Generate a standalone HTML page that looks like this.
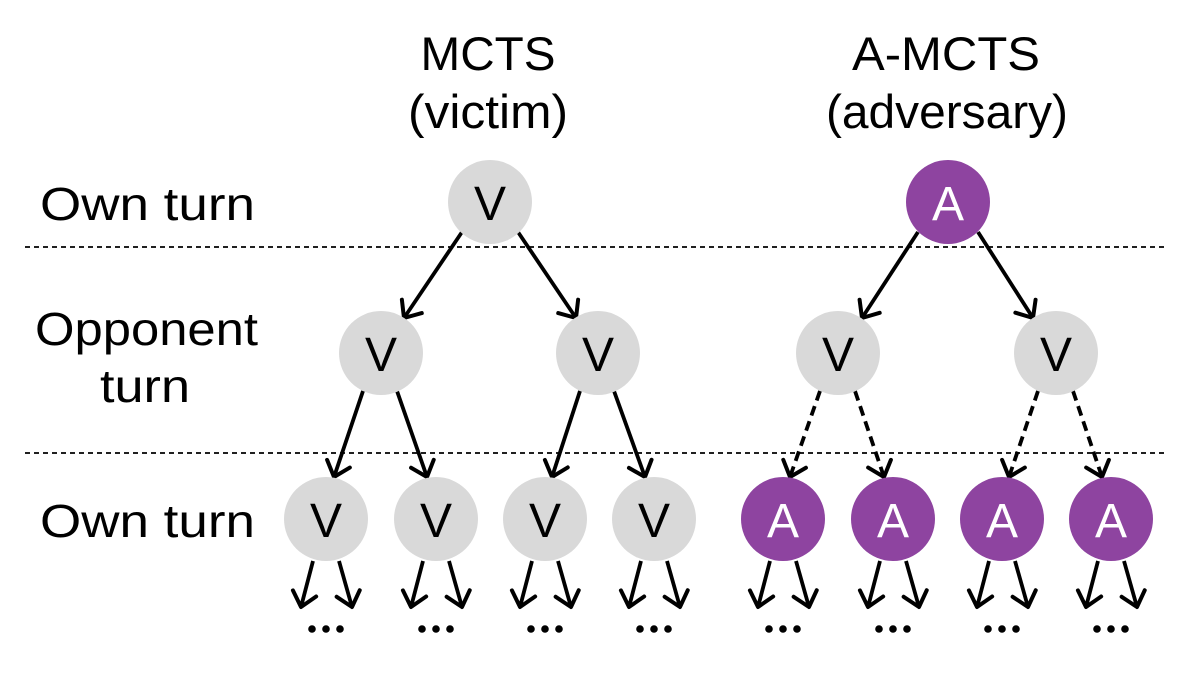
<!DOCTYPE html>
<html><head><meta charset="utf-8"><style>
html,body{margin:0;padding:0;background:#fff;}
svg{display:block;}
text{font-family:"Liberation Sans",sans-serif;fill:#000;}
</style></head><body>
<svg width="1200" height="674" viewBox="0 0 1200 674" xmlns="http://www.w3.org/2000/svg">
<defs>
<marker id="ah" markerUnits="userSpaceOnUse" markerWidth="40" markerHeight="40" refX="20" refY="20" orient="auto">
<path d="M6,8 L20,20 L6,32" fill="none" stroke="#000" stroke-width="4" stroke-dasharray="none" stroke-linecap="round" stroke-linejoin="round"/>
</marker>
</defs>
<g font-size="47" text-anchor="middle">
<text x="488" y="70" textLength="135" lengthAdjust="spacingAndGlyphs">MCTS</text>
<text x="488" y="128" textLength="160" lengthAdjust="spacingAndGlyphs">(victim)</text>
<text x="946" y="70" textLength="188" lengthAdjust="spacingAndGlyphs">A-MCTS</text>
<text x="947" y="128" textLength="242" lengthAdjust="spacingAndGlyphs">(adversary)</text>
</g>
<g font-size="46">
<text x="40" y="220" textLength="215" lengthAdjust="spacingAndGlyphs">Own turn</text>
<text x="35" y="345" textLength="223" lengthAdjust="spacingAndGlyphs">Opponent</text>
<text x="100" y="402" textLength="90" lengthAdjust="spacingAndGlyphs">turn</text>
<text x="40" y="537" textLength="215" lengthAdjust="spacingAndGlyphs">Own turn</text>
</g>
<g stroke="#000" stroke-width="1.8" stroke-dasharray="5,4">
<line x1="25" y1="247" x2="1168" y2="247"/>
<line x1="25" y1="453" x2="1168" y2="453"/>
</g>
<g stroke="#000" stroke-width="3.8" fill="none" marker-end="url(#ah)">
<line x1="462" y1="232" x2="404" y2="318"/>
<line x1="518" y1="232" x2="576" y2="318"/>
<line x1="918" y1="232" x2="862" y2="318"/>
<line x1="978" y1="232" x2="1033" y2="318"/>
<line x1="363" y1="391" x2="334" y2="477"/>
<line x1="397" y1="391" x2="427" y2="477"/>
<line x1="580" y1="391" x2="552" y2="477"/>
<line x1="614" y1="391" x2="645" y2="477"/>
</g>
<g stroke="#000" stroke-width="3.8" fill="none" stroke-dasharray="10,6" marker-end="url(#ah)">
<line x1="820" y1="391" x2="790" y2="477"/>
<line x1="855" y1="391" x2="884" y2="477"/>
<line x1="1038" y1="391" x2="1009" y2="477"/>
<line x1="1073" y1="391" x2="1102" y2="477"/>
</g>
<g stroke="#000" stroke-width="3.8" fill="none" marker-end="url(#ah)">
<line x1="313" y1="561" x2="301" y2="607"/><line x1="339" y1="561" x2="352" y2="607"/>
<line x1="423" y1="561" x2="411" y2="607"/><line x1="449" y1="561" x2="462" y2="607"/>
<line x1="532" y1="561" x2="520" y2="607"/><line x1="558" y1="561" x2="571" y2="607"/>
<line x1="641" y1="561" x2="629" y2="607"/><line x1="667" y1="561" x2="680" y2="607"/>
<line x1="770" y1="561" x2="758" y2="607"/><line x1="796" y1="561" x2="809" y2="607"/>
<line x1="880" y1="561" x2="868" y2="607"/><line x1="906" y1="561" x2="919" y2="607"/>
<line x1="989" y1="561" x2="977" y2="607"/><line x1="1015" y1="561" x2="1028" y2="607"/>
<line x1="1098" y1="561" x2="1086" y2="607"/><line x1="1124" y1="561" x2="1137" y2="607"/>
</g>
<g fill="#000">
<circle cx="312" cy="629" r="3.8"/><circle cx="326" cy="629" r="3.8"/><circle cx="340" cy="629" r="3.8"/>
<circle cx="422" cy="629" r="3.8"/><circle cx="436" cy="629" r="3.8"/><circle cx="450" cy="629" r="3.8"/>
<circle cx="531" cy="629" r="3.8"/><circle cx="545" cy="629" r="3.8"/><circle cx="559" cy="629" r="3.8"/>
<circle cx="640" cy="629" r="3.8"/><circle cx="654" cy="629" r="3.8"/><circle cx="668" cy="629" r="3.8"/>
<circle cx="769" cy="629" r="3.8"/><circle cx="783" cy="629" r="3.8"/><circle cx="797" cy="629" r="3.8"/>
<circle cx="879" cy="629" r="3.8"/><circle cx="893" cy="629" r="3.8"/><circle cx="907" cy="629" r="3.8"/>
<circle cx="988" cy="629" r="3.8"/><circle cx="1002" cy="629" r="3.8"/><circle cx="1016" cy="629" r="3.8"/>
<circle cx="1097" cy="629" r="3.8"/><circle cx="1111" cy="629" r="3.8"/><circle cx="1125" cy="629" r="3.8"/>
</g>
<g fill="#d9d9d9">
<circle cx="490" cy="202" r="42"/>
<circle cx="381" cy="353" r="42"/><circle cx="598" cy="353" r="42"/>
<circle cx="838" cy="353" r="42"/><circle cx="1056" cy="353" r="42"/>
<circle cx="326" cy="519" r="42"/><circle cx="436" cy="519" r="42"/>
<circle cx="545" cy="519" r="42"/><circle cx="654" cy="519" r="42"/>
</g>
<g fill="#8e44a0">
<circle cx="948" cy="202" r="42"/>
<circle cx="783" cy="519" r="42"/><circle cx="893" cy="519" r="42"/>
<circle cx="1002" cy="519" r="42"/><circle cx="1111" cy="519" r="42"/>
</g>
<g font-size="48" text-anchor="middle">
<text x="490" y="220">V</text>
<text x="381" y="371">V</text><text x="598" y="371">V</text>
<text x="838" y="371">V</text><text x="1056" y="371">V</text>
<text x="326" y="537">V</text><text x="436" y="537">V</text>
<text x="545" y="537">V</text><text x="654" y="537">V</text>
</g>
<g font-size="48" text-anchor="middle">
<text x="948" y="220" style="fill:#fff">A</text>
<text x="783" y="537" style="fill:#fff">A</text><text x="893" y="537" style="fill:#fff">A</text>
<text x="1002" y="537" style="fill:#fff">A</text><text x="1111" y="537" style="fill:#fff">A</text>
</g>
</svg>
</body></html>
